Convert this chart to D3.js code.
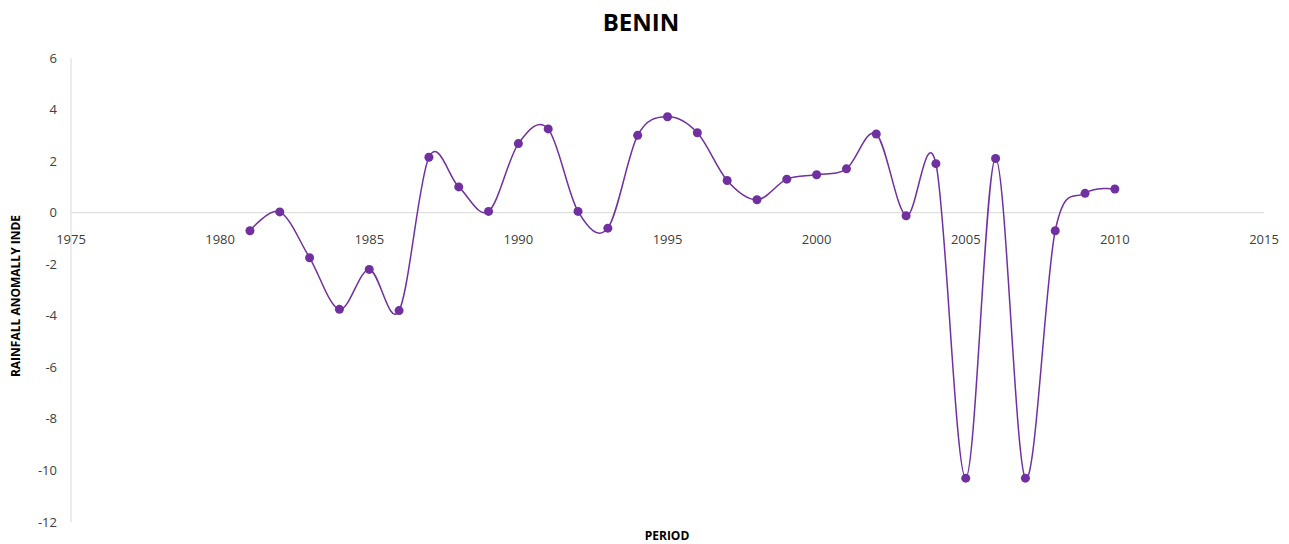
<!DOCTYPE html>
<html>
<head>
<meta charset="utf-8">
<script src="https://cdn.jsdelivr.net/npm/d3@7"></script>
<style>
  body { margin: 0; background: #fff; }
  text { font-family: "Open Sans", "Liberation Sans", sans-serif; }
</style>
</head>
<body>
<script>
var years = [1981,1982,1983,1984,1985,1986,1987,1988,1989,1990,
             1991,1992,1993,1994,1995,1996,1997,1998,1999,2000,
             2001,2002,2003,2004,2005,2006,2007,2008,2009,2010];
var anomaly = [-0.7,0.03,-1.75,-3.75,-2.2,-3.8,2.15,1.0,0.05,2.68,
               3.25,0.05,-0.6,3.0,3.72,3.1,1.25,0.5,1.3,1.47,
               1.7,3.05,-0.12,1.9,-10.3,2.1,-10.3,-0.7,0.75,0.92];
var xTicks = [1975,1980,1985,1990,1995,2000,2005,2010,2015];
var yTicks = [-12,-10,-8,-6,-4,-2,0,2,4,6];

var width = 1289, height = 544;
var plotLeft = 71, plotRight = 1264, plotTop = 58, plotBottom = 522;
var purple = "#7030a0";

var svg = d3.select("body").append("svg")
  .attr("width", width)
  .attr("height", height);

var x = d3.scaleLinear().domain([1975, 2015]).range([plotLeft, plotRight]);
var y = d3.scaleLinear().domain([-12, 6]).range([plotBottom, plotTop]);

// vertical axis line
svg.append("line")
  .attr("x1", plotLeft).attr("x2", plotLeft)
  .attr("y1", plotTop).attr("y2", plotBottom)
  .attr("stroke", "#d9d9d9").attr("stroke-width", 1);

// zero line (x axis)
svg.append("line")
  .attr("x1", plotLeft).attr("x2", plotRight)
  .attr("y1", y(0)).attr("y2", y(0))
  .attr("stroke", "#d9d9d9").attr("stroke-width", 1);

// y tick labels
svg.selectAll(".ylab")
  .data(yTicks)
  .enter()
  .append("text")
  .attr("class", "ylab")
  .attr("x", plotLeft - 14)
  .attr("y", function(d) { return y(d); })
  .attr("dy", "0.35em")
  .attr("text-anchor", "end")
  .attr("font-size", 13)
  .attr("fill", "#404040")
  .text(function(d) { return d; });

// x tick labels, sitting under the zero line
svg.selectAll(".xlab")
  .data(xTicks)
  .enter()
  .append("text")
  .attr("class", "xlab")
  .attr("x", function(d) { return x(d); })
  .attr("y", y(0) + 31)
  .attr("text-anchor", "middle")
  .attr("font-size", 13)
  .attr("fill", "#404040")
  .text(function(d) { return d; });

var pts = years.map(function(yr, i) { return [yr, anomaly[i]]; });

var line = d3.line()
  .x(function(d) { return x(d[0]); })
  .y(function(d) { return y(d[1]); })
  .curve(d3.curveCatmullRom.alpha(0));

svg.append("path")
  .datum(pts)
  .attr("d", line)
  .attr("fill", "none")
  .attr("stroke", purple)
  .attr("stroke-width", 1.5);

svg.selectAll("circle")
  .data(pts)
  .enter()
  .append("circle")
  .attr("cx", function(d) { return x(d[0]); })
  .attr("cy", function(d) { return y(d[1]); })
  .attr("r", 4.5)
  .attr("fill", purple);

// titles
svg.append("text")
  .attr("x", 641).attr("y", 31)
  .attr("text-anchor", "middle")
  .attr("font-size", 24)
  .attr("font-weight", "bold")
  .attr("fill", "#000")
  .text("BENIN");

svg.append("text")
  .attr("x", 667).attr("y", 540)
  .attr("text-anchor", "middle")
  .attr("font-size", 12)
  .attr("font-weight", "bold")
  .attr("fill", "#000")
  .text("PERIOD");

svg.append("text")
  .attr("transform", "translate(20," + 296 + ") rotate(-90)")
  .attr("text-anchor", "middle")
  .attr("font-size", 12)
  .attr("font-weight", "bold")
  .attr("fill", "#000")
  .text("RAINFALL ANOMALLY INDE");
</script>
</body>
</html>
